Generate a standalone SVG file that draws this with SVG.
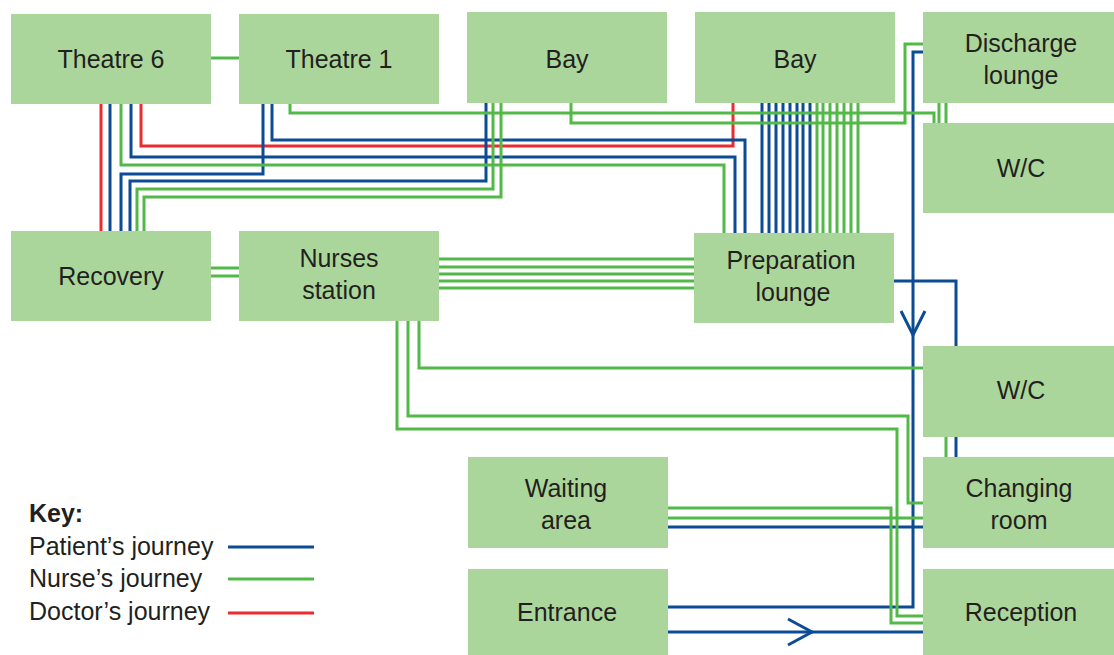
<svg xmlns="http://www.w3.org/2000/svg" width="1114" height="655" viewBox="0 0 1114 655">
<style>
.n{fill:#abd69b}
.t{font-family:"Liberation Sans",Arial,sans-serif;font-size:25px;fill:#231f20;text-anchor:middle}
.k{font-family:"Liberation Sans",Arial,sans-serif;font-size:25px;fill:#231f20}
.b,.g,.r{fill:none;stroke-width:3;stroke-linejoin:miter;stroke-linecap:butt}
.b{stroke:#0b4c94}
.g{stroke:#52b948}
.r{stroke:#ed2a30}
</style>
<rect width="1114" height="655" fill="#ffffff"/>
<g id="connectors">
<path class="r" d="M101,104V231"/>
<path class="r" d="M141,104V146H733V103"/>
<path class="b" d="M110,104V231"/>
<path class="b" d="M131,104V157H735V233"/>
<path class="b" d="M263,104V174H121V231"/>
<path class="b" d="M272,104V140H745V233"/>
<path class="b" d="M486,103V181H130V231"/>
<path class="b" d="M762,103V233M769,103V233M776,103V233M783,103V233M790,103V233M797,103V233M803,103V233M810,103V233"/>
<path class="b" d="M923,52H913V607H668"/>
<path class="b" d="M901,311L913,335L925,311"/>
<path class="b" d="M894,281H956V457"/>
<path class="b" d="M668,527H923"/>
<path class="b" d="M668,632H923"/>
<path class="b" d="M788,619L812,632L788,645"/>
<path class="g" d="M211,58H239"/>
<path class="g" d="M121,104V165H724V233"/>
<path class="g" d="M290,104V113H934V123"/>
<path class="g" d="M493,103V189H137V231"/>
<path class="g" d="M501,103V197H144V231"/>
<path class="g" d="M571,103V123H905V44H923"/>
<path class="g" d="M817,103V233M823,103V233M830,103V233M837,103V233M844,103V233M851,103V233M858,103V233"/>
<path class="g" d="M939,103V123M946,103V123"/>
<path class="g" d="M211,268H239M211,276H239"/>
<path class="g" d="M439,259H694M439,267H694M439,274H694M439,281H694M439,288H694"/>
<path class="g" d="M419,321V368H923"/>
<path class="g" d="M408,321V416H908V503H923"/>
<path class="g" d="M397,321V429H897V616H923"/>
<path class="g" d="M946,437V457"/>
<path class="g" d="M668,508H891V623H923"/>
<path class="g" d="M668,518H923"/>
</g>
<g id="theatre6"><rect class="n" x="11" y="14" width="200" height="90"/><text class="t" x="111" y="68">Theatre 6</text></g>
<g id="theatre1"><rect class="n" x="239" y="14" width="200" height="90"/><text class="t" x="339" y="68">Theatre 1</text></g>
<g id="bay1"><rect class="n" x="467" y="12" width="200" height="91"/><text class="t" x="567" y="68">Bay</text></g>
<g id="bay2"><rect class="n" x="695" y="12" width="200" height="91"/><text class="t" x="795" y="68">Bay</text></g>
<g id="discharge"><rect class="n" x="923" y="12" width="200" height="91"/><text class="t" x="1021" y="52">Discharge</text><text class="t" x="1021" y="84">lounge</text></g>
<g id="wc1"><rect class="n" x="923" y="123" width="200" height="90"/><text class="t" x="1021" y="177">W/C</text></g>
<g id="recovery"><rect class="n" x="11" y="231" width="200" height="90"/><text class="t" x="111" y="285">Recovery</text></g>
<g id="nurses"><rect class="n" x="239" y="231" width="200" height="90"/><text class="t" x="339" y="267">Nurses</text><text class="t" x="339" y="299">station</text></g>
<g id="preparation"><rect class="n" x="694" y="233" width="200" height="90"/><text class="t" x="791" y="269">Preparation</text><text class="t" x="793" y="301">lounge</text></g>
<g id="wc2"><rect class="n" x="923" y="346" width="200" height="91"/><text class="t" x="1021" y="399">W/C</text></g>
<g id="waiting"><rect class="n" x="468" y="457" width="200" height="91"/><text class="t" x="566" y="497">Waiting</text><text class="t" x="566" y="529">area</text></g>
<g id="changing"><rect class="n" x="923" y="457" width="200" height="91"/><text class="t" x="1019" y="497">Changing</text><text class="t" x="1019" y="529">room</text></g>
<g id="entrance"><rect class="n" x="468" y="569" width="200" height="91"/><text class="t" x="567" y="621">Entrance</text></g>
<g id="reception"><rect class="n" x="923" y="569" width="200" height="91"/><text class="t" x="1021" y="621">Reception</text></g>
<g id="key">
<text class="k" x="29" y="522" font-weight="bold">Key:</text>
<text class="k" x="29" y="555">Patient’s journey</text>
<text class="k" x="29" y="587">Nurse’s journey</text>
<text class="k" x="29" y="620">Doctor’s journey</text>
<path class="b" d="M228,547H314"/>
<path class="g" d="M228,579H314"/>
<path class="r" d="M228,613H314"/>
</g>
</svg>
